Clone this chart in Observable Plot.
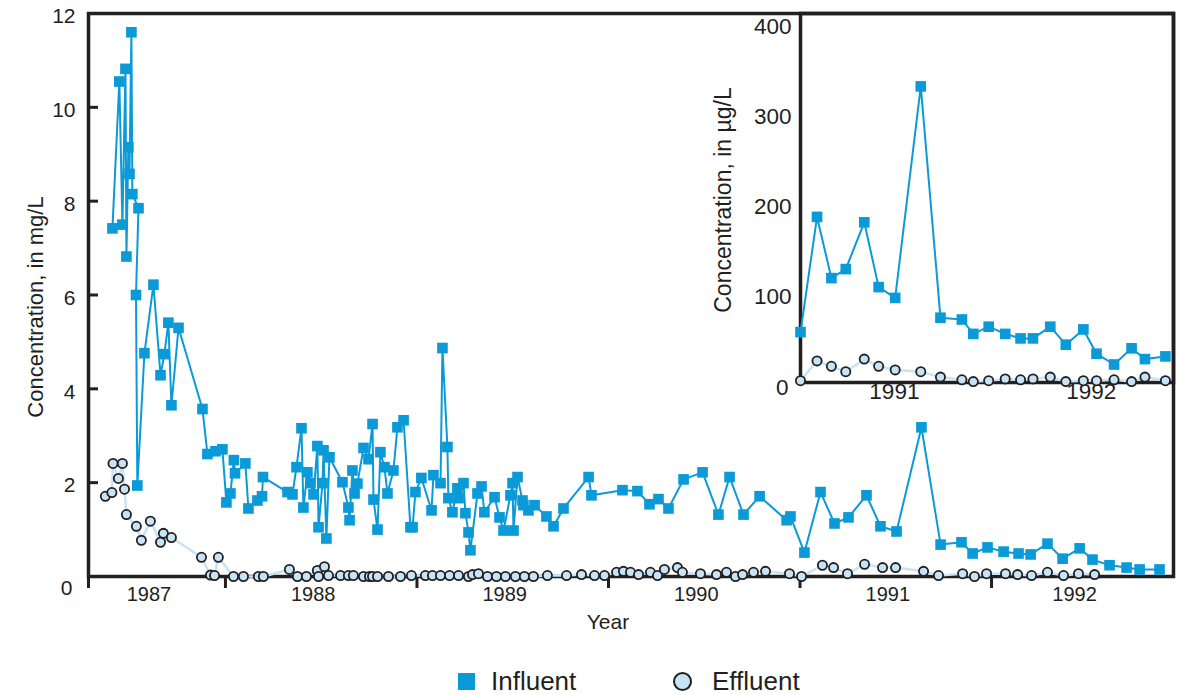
<!DOCTYPE html>
<html>
<head>
<meta charset="utf-8">
<script src="https://cdn.jsdelivr.net/npm/d3@7"></script>
<script src="https://cdn.jsdelivr.net/npm/@observablehq/plot@0.6"></script>
<style>
  body { margin: 0; background: #fff; }
  #wrap { position: relative; width: 1178px; height: 695px; overflow: hidden; font-family: "Liberation Sans", Arial, Helvetica, sans-serif; color: #231f20; }
  #main, #inset { position: absolute; left: 0; top: 0; }
  #inset { pointer-events: none; }
  .lg-sq { position: absolute; left: 458px; top: 673px; width: 17px; height: 17px; background: #0b9ad8; }
  .lg-ci { position: absolute; left: 673px; top: 672px; width: 15px; height: 15px; border: 2px solid #231f20; border-radius: 50%; background: #c6e4f6; }
  .lg-tx { position: absolute; top: 668px; font-size: 26px; line-height: 26px; white-space: nowrap; }
</style>
</head>
<body>
<div id="wrap">
  <div id="main"></div>
  <div id="inset"></div>
  <div class="lg-sq"></div><span class="lg-tx" style="left:491px">Influent</span>
  <div class="lg-ci"></div><span class="lg-tx" style="left:712px">Effluent</span>
</div>
<script>
// ---------- data (decimal years, concentrations) ----------
const xDomain = [1987.285, 1992.95];
const yTicks = [0, 2, 4, 6, 8, 10, 12];
const yearTicks = [1988, 1989, 1990, 1991, 1992];
const yearLabels = [1987, 1988, 1989, 1990, 1991, 1992];

const influentDates = [
  1987.410, 1987.446, 1987.462, 1987.478, 1987.483, 1987.493, 1987.499, 1987.509, 1987.514, 1987.546,
  1987.533, 1987.540, 1987.577, 1987.624, 1987.661, 1987.681, 1987.702, 1987.718, 1987.755, 1987.880,
  1987.906, 1987.948, 1987.984,
  1988.005, 1988.026, 1988.044, 1988.050, 1988.104, 1988.120, 1988.167, 1988.191, 1988.196, 1988.324,
  1988.350, 1988.371, 1988.397, 1988.407, 1988.428, 1988.444, 1988.460, 1988.480, 1988.486, 1988.507,
  1988.512, 1988.527, 1988.543, 1988.611, 1988.642, 1988.648, 1988.663, 1988.674, 1988.689, 1988.721,
  1988.747, 1988.768, 1988.773, 1988.794, 1988.809, 1988.830, 1988.846, 1988.877, 1988.898, 1988.930,
  1988.966, 1988.977, 1988.992,
  1989.023, 1989.076, 1989.086, 1989.123, 1989.133, 1989.159, 1989.164, 1989.185, 1989.211, 1989.217,
  1989.243, 1989.253, 1989.269, 1989.279, 1989.316, 1989.337, 1989.352, 1989.405, 1989.431, 1989.452,
  1989.488, 1989.499, 1989.504, 1989.525, 1989.551, 1989.556, 1989.582, 1989.614, 1989.676, 1989.713,
  1989.765, 1989.896, 1989.911,
  1990.073, 1990.151, 1990.214, 1990.261, 1990.313, 1990.392, 1990.491, 1990.574, 1990.632, 1990.705,
  1990.789, 1990.930, 1990.950,
  1991.023, 1991.107, 1991.180, 1991.253, 1991.347, 1991.420, 1991.504, 1991.634, 1991.734, 1991.843,
  1991.901, 1991.979, 1992.063, 1992.141, 1992.204, 1992.292, 1992.371, 1992.460, 1992.527, 1992.616,
  1992.705, 1992.773, 1992.877
];
const influentMgL = [
  7.42, 10.55, 7.50, 10.82, 6.82, 9.15, 8.58, 11.60, 8.15, 7.85,
  6.00, 1.94, 4.76, 6.22, 4.29, 4.74, 5.41, 3.65, 5.30, 3.57,
  2.61, 2.67, 2.71,
  1.58, 1.77, 2.48, 2.20, 2.41, 1.45, 1.62, 1.71, 2.12, 1.80,
  1.75, 2.33, 3.16, 1.47, 2.22, 1.99, 1.75, 2.78, 1.05, 1.99,
  2.69, 0.81, 2.54, 2.01, 1.47, 1.20, 2.26, 1.77, 1.98, 2.74,
  2.50, 3.25, 1.64, 1.00, 2.65, 2.33, 1.77, 2.26, 3.18, 3.33,
  1.05, 1.05, 1.80,
  2.10, 1.41, 2.16, 1.99, 4.87, 2.76, 1.67, 1.37, 1.88, 1.67,
  1.99, 1.35, 0.94, 0.56, 1.77, 1.92, 1.37, 1.69, 1.26, 0.98,
  1.73, 1.99, 0.98, 2.12, 1.62, 1.52, 1.41, 1.52, 1.28, 1.07,
  1.45, 2.12, 1.73,
  1.84, 1.82, 1.54, 1.65, 1.45, 2.07, 2.22, 1.32, 2.12, 1.32,
  1.71, 1.20, 1.28,
  0.51, 1.80, 1.13, 1.26, 1.73, 1.07, 0.96, 3.18, 0.68, 0.73,
  0.49, 0.62, 0.53, 0.49, 0.47, 0.70, 0.38, 0.60, 0.36, 0.24,
  0.19, 0.15, 0.15
];

const effluentDates = [
  1987.373, 1987.407, 1987.413, 1987.441, 1987.462, 1987.473, 1987.483, 1987.535, 1987.561, 1987.608,
  1987.661, 1987.676, 1987.718, 1987.875, 1987.922, 1987.943, 1987.963,
  1988.042, 1988.094, 1988.172, 1988.198, 1988.334, 1988.376, 1988.423, 1988.480, 1988.486, 1988.517,
  1988.538, 1988.601, 1988.642, 1988.668, 1988.721, 1988.752, 1988.768, 1988.794, 1988.851, 1988.914,
  1988.971,
  1989.044, 1989.081, 1989.123, 1989.170, 1989.217, 1989.269, 1989.290, 1989.321, 1989.368, 1989.415,
  1989.462, 1989.514, 1989.561, 1989.608, 1989.681, 1989.781, 1989.859, 1989.927, 1989.979,
  1990.042, 1990.078, 1990.115, 1990.157, 1990.219, 1990.256, 1990.292, 1990.360, 1990.386, 1990.480,
  1990.564, 1990.616, 1990.663, 1990.700, 1990.757, 1990.820, 1990.945,
  1991.008, 1991.117, 1991.175, 1991.248, 1991.337, 1991.431, 1991.499, 1991.645, 1991.723, 1991.849,
  1991.911, 1991.974, 1992.073, 1992.136, 1992.209, 1992.292, 1992.376, 1992.454, 1992.538
];
const effluentMgL = [
  1.71, 1.79, 2.41, 2.09, 2.41, 1.86, 1.32, 1.07, 0.77, 1.18,
  0.73, 0.92, 0.83, 0.41, 0.03, 0.02, 0.41,
  0, 0, 0, 0, 0.15, 0, 0, 0.13, 0, 0.21,
  0.02, 0.02, 0.02, 0.02, 0, 0, 0, 0, 0, 0,
  0.02,
  0.02, 0.02, 0.02, 0.02, 0.02, 0, 0.04, 0.06, 0, 0,
  0, 0, 0, 0, 0.02, 0.02, 0.04, 0.02, 0.02,
  0.09, 0.11, 0.09, 0.04, 0.09, 0.02, 0.15, 0.19, 0.09, 0.06,
  0.04, 0.09, 0, 0.04, 0.09, 0.11, 0.06,
  0, 0.24, 0.19, 0.06, 0.26, 0.19, 0.19, 0.11, 0.02, 0.06,
  0, 0.06, 0.06, 0.04, 0.02, 0.09, 0.02, 0.06, 0.04
];

// inset (µg/L)
const insetXDomain = [1991.023, 1992.918];
const insetYTicks = [0, 100, 200, 300, 400];
const insetYearLabels = [1991, 1992];
const insetDates = [
  1991.023, 1991.107, 1991.180, 1991.253, 1991.347, 1991.420, 1991.504, 1991.634, 1991.734, 1991.843,
  1991.901, 1991.979, 1992.063, 1992.141, 1992.204, 1992.292, 1992.371, 1992.460, 1992.527, 1992.616,
  1992.705, 1992.773, 1992.877
];
const insetInfluentUgL = [
  56, 184, 116, 126, 178, 106, 94, 329, 72, 70,
  54, 62, 54, 49, 49, 62, 42, 59, 32, 20,
  38, 26, 29
];
const insetEffluentUgL = [
  2, 24, 18, 12, 26, 18, 14, 12, 6, 3,
  1, 2, 4, 3, 4, 6, 1, 2, 2, 3,
  1, 6, 2
];

// ---------- build ----------
const ink = "#231f20", blue = "#0b9ad8", pale = "#c6e4f6";
const font = "'Liberation Sans', Arial, Helvetica, sans-serif";
const zip = (a, b) => a.slice(0, Math.min(a.length, b.length)).map((t, i) => ({t, v: b[i]}));
const influent = zip(influentDates, influentMgL);
const effluent = zip(effluentDates, effluentMgL);
const insetInf = zip(insetDates, insetInfluentUgL);
const insetEff = zip(insetDates, insetEffluentUgL);

const W = 1178, H = 650, mL = 88, mR = 5, mT = 13, mB = 74;
const midYear = y => (Math.max(y, xDomain[0]) + Math.min(y + 1, xDomain[1])) / 2;

const main = Plot.plot({
  width: W, height: H, marginLeft: mL, marginRight: mR, marginTop: mT, marginBottom: mB,
  style: {fontFamily: font, background: "transparent", color: ink, overflow: "visible"},
  x: {domain: xDomain, axis: null},
  y: {domain: [0, 12], axis: null},
  marks: [
    Plot.frame({stroke: ink, strokeWidth: 3.5}),
    Plot.axisY(yTicks.slice(1, -1), {anchor: "left", tickSize: 10, dx: 10, tickFormat: () => "", stroke: ink, strokeWidth: 3, label: null}),
    Plot.axisX([xDomain[0], ...yearTicks], {tickSize: 12, tickFormat: () => "", stroke: ink, strokeWidth: 3, label: null}),
    Plot.text(yTicks.filter(d => d > 0), {y: d => d, text: d => String(d), frameAnchor: "left", textAnchor: "end", dx: -13, dy: 3, fontSize: 21, fill: ink}),
    Plot.text([0], {y: d => d, text: d => String(d), frameAnchor: "left", textAnchor: "end", dx: -16, dy: 12, fontSize: 21, fill: ink}),
    Plot.text(yearLabels, {x: midYear, text: d => String(d), frameAnchor: "bottom", textAnchor: "middle", dx: -8, dy: 24, fontSize: 20, fill: ink}),
    Plot.text(["Year"], {text: d => d, frameAnchor: "bottom", textAnchor: "middle", dx: -23, dy: 52, fontSize: 21, fill: ink}),
    Plot.text(["Concentration, in mg/L"], {text: d => d, frameAnchor: "left", textAnchor: "middle", rotate: -90, dx: -53, dy: 12, fontSize: 22, fill: ink}),
    Plot.line(effluent, {x: "t", y: "v", stroke: pale, strokeWidth: 2.5}),
    Plot.line(influent, {x: "t", y: "v", stroke: blue, strokeWidth: 2}),
    Plot.dot(influent, {x: "t", y: "v", symbol: "square", r: 6, fill: blue, stroke: "none"}),
    Plot.dot(effluent, {x: "t", y: "v", r: 4.6, fill: pale, stroke: ink, strokeWidth: 1.8})
  ]
});
document.getElementById("main").appendChild(main);

const inset = Plot.plot({
  width: W, height: 420, marginLeft: 800, marginRight: mR, marginTop: mT, marginBottom: 38,
  style: {fontFamily: font, background: "transparent", color: ink, overflow: "visible"},
  x: {domain: insetXDomain, axis: null},
  y: {domain: [0, 410], axis: null},
  marks: [
    Plot.frame({stroke: ink, strokeWidth: 3.5}),
    Plot.text(insetYTicks.filter(d => d > 0), {y: d => d, text: d => String(d), frameAnchor: "left", textAnchor: "end", dx: -9, dy: 4, fontSize: 22.5, fill: ink}),
    Plot.text([0], {y: d => d, text: d => String(d), frameAnchor: "left", textAnchor: "end", dx: -12, dy: 5, fontSize: 22.5, fill: ink}),
    Plot.text(insetYearLabels, {x: d => d + 0.5, text: d => String(d), frameAnchor: "bottom", textAnchor: "middle", dy: 16, fontSize: 22.5, fill: ink}),
    Plot.text(["Concentration, in \u00b5g/L"], {text: d => d, frameAnchor: "left", textAnchor: "middle", rotate: -90, dx: -77, dy: 2, fontSize: 23, fill: ink}),
    Plot.line(insetEff, {x: "t", y: "v", stroke: pale, strokeWidth: 2.5}),
    Plot.line(insetInf, {x: "t", y: "v", stroke: blue, strokeWidth: 2}),
    Plot.dot(insetInf, {x: "t", y: "v", symbol: "square", r: 6, fill: blue, stroke: "none"}),
    Plot.dot(insetEff, {x: "t", y: "v", r: 4.6, fill: pale, stroke: ink, strokeWidth: 1.8})
  ]
});
document.getElementById("inset").appendChild(inset);
</script>
</body>
</html>
